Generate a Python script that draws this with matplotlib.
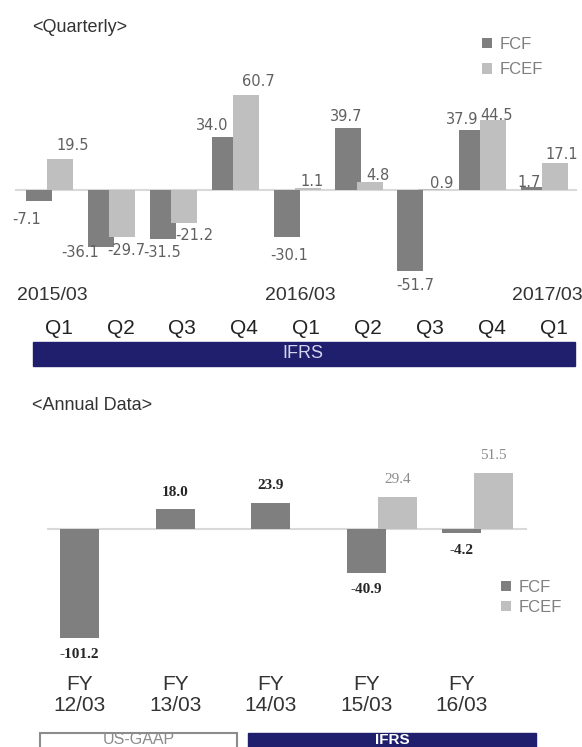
import matplotlib
matplotlib.use("Agg")
import matplotlib.pyplot as plt
import matplotlib.patches as patches
from matplotlib.transforms import blended_transform_factory, offset_copy
import numpy as np

plt.rcParams['font.family'] = ['Liberation Sans', 'DejaVu Sans']

W, H = 582, 747

# Quarterly free cash flow (billion yen)
quarters = ["Q1", "Q2", "Q3", "Q4", "Q1", "Q2", "Q3", "Q4", "Q1"]
year_labels = ["2015/03", "", "", "", "2016/03", "", "", "", "2017/03"]
fcf_q = [-7.1, -36.1, -31.5, 34.0, -30.1, 39.7, -51.7, 37.9, 1.7]
fcef_q = [19.5, -29.7, -21.2, 60.7, 1.1, 4.8, 0.9, 44.5, 17.1]

# Annual free cash flow (billion yen)
fiscal_years = ["FY\n12/03", "FY\n13/03", "FY\n14/03", "FY\n15/03", "FY\n16/03"]
fcf_y = [-101.2, 18.0, 23.9, -40.9, -4.2]
fcef_y = [np.nan, np.nan, np.nan, 29.4, 51.5]

# hand-placed label nudges for the quarterly chart (dx, dy in px, y down)
fcf_q_nudge = [(-12, 18), (-21, 6), (-1, 13), (-12, -11), (3, 18),
               (-2, -11), (5, 14), (-10, -11), (-5, -5)]
fcef_q_nudge = [(13, -14), (4, 14), (11, 12), (13, -13), (4, -7),
                (8, -7), (10, -5), (3, -5), (7, -9)]

DARK = '#7f7f7f'
LIGHT = '#bfbfbf'
NAVY = '#1f1f6e'


def fx(px):
    return px / W


def fy(py):
    return 1 - py / H


def box(x0, y0, x1, y1):
    return [fx(x0), fy(y1), fx(x1) - fx(x0), fy(y0) - fy(y1)]


def clean(ax):
    for s in ax.spines.values():
        s.set_visible(False)
    ax.set_xticks([])
    ax.set_yticks([])


fig = plt.figure(figsize=(W / 100, H / 100), dpi=100)

# ---- quarterly chart ----
ax1 = fig.add_axes(box(15, 60, 577, 300))
clean(ax1)
xq = np.arange(len(quarters))
ax1.set_xlim(-0.557, 8.522)
ax1.set_ylim(-70.06, 82.8)
ax1.axhline(0, color='#d9d9d9', lw=1.5, zorder=1)
b1 = ax1.bar(xq - 0.17, fcf_q, 0.42, color=DARK, zorder=2, label='FCF')
b2 = ax1.bar(xq + 0.17, fcef_q, 0.42, color=LIGHT, zorder=3, label='FCEF')

for xs, vals, nudges in ((xq - 0.17, fcf_q, fcf_q_nudge), (xq + 0.17, fcef_q, fcef_q_nudge)):
    for x, v, (dx, dy) in zip(xs, vals, nudges):
        ax1.annotate(f"{v:.1f}", xy=(x, v), xytext=(dx, -dy), textcoords='offset pixels',
                     ha='center', va='center', fontsize=10.5, color='#606060',
                     family='DejaVu Sans', zorder=4)

tq = blended_transform_factory(ax1.transData, fig.transFigure)
for i, lab in enumerate(year_labels):
    if lab:
        ax1.text(i, fy(295), lab, transform=offset_copy(tq, fig=fig, x=3, y=0, units='dots'),
                 ha='center', va='center', fontsize=14, color='#333333')
for i, lab in enumerate(quarters):
    ax1.text(i, fy(328), lab, transform=offset_copy(tq, fig=fig, x=9, y=0, units='dots'),
             ha='center', va='center', fontsize=15, color='#222222')

fig.add_artist(patches.Rectangle((fx(33), fy(366)), fx(575) - fx(33), fy(342) - fy(366),
                                 transform=fig.transFigure, color=NAVY))
fig.text(fx(303), fy(354), "IFRS", ha='center', va='center', fontsize=13, color='#d4d4ee')

fig.text(fx(32), fy(28), "<Quarterly>", ha='left', va='center', fontsize=13, color='#333333')

ax1.legend(handles=[b1, b2], loc='upper left', bbox_to_anchor=(fx(482), fy(37)),
           bbox_transform=fig.transFigure, frameon=False, fontsize=12,
           handlelength=0.6, handleheight=0.6, handletextpad=0.45, labelspacing=0.62,
           borderpad=0, borderaxespad=0, labelcolor='#7f7f7f')

# ---- annual chart ----
ax2 = fig.add_axes(box(47, 430, 527, 670))
clean(ax2)
xa = np.arange(len(fiscal_years))
ax2.set_xlim(-0.34, 4.681)
ax2.set_ylim(-131.0, 91.2)
ax2.axhline(0, color='#d9d9d9', lw=1.5, zorder=1)
c1 = ax2.bar(xa, fcf_y, 0.41, color=DARK, zorder=2, label='FCF')
c2 = ax2.bar(xa + 0.33, fcef_y, 0.41, color=LIGHT, zorder=3, label='FCEF')

for x, v in zip(xa, fcf_y):
    ax2.annotate(f"{v:.1f}", xy=(x, v), xytext=(0, 17 if v > 0 else -17), textcoords='offset pixels',
                 ha='center', va='center', fontsize=11, fontweight='bold', color='#262626',
                 family='Liberation Serif')
for x, v in zip(xa + 0.33, fcef_y):
    if np.isnan(v):
        continue
    ax2.annotate(f"{v:.1f}", xy=(x, v), xytext=(0, 17 if v > 0 else -17), textcoords='offset pixels',
                 ha='center', va='center', fontsize=11, color='#8c8c8c',
                 family='Liberation Serif')

ta = blended_transform_factory(ax2.transData, fig.transFigure)
for i, lab in enumerate(fiscal_years):
    ax2.text(i, fy(695), lab, transform=ta, ha='center', va='center', fontsize=15,
             linespacing=1.15, color='#333333')

fig.text(fx(32), fy(405), "<Annual Data>", ha='left', va='center', fontsize=13, color='#333333')

ax2.legend(handles=[c1, c2], loc='upper left', bbox_to_anchor=(fx(501), fy(580)),
           bbox_transform=fig.transFigure, frameon=False, fontsize=12,
           handlelength=0.6, handleheight=0.6, handletextpad=0.45, labelspacing=0.3,
           borderpad=0, borderaxespad=0, labelcolor='#7f7f7f')

# accounting standard boxes
fig.add_artist(patches.Rectangle((fx(40), fy(765)), fx(237) - fx(40), fy(733) - fy(765),
                                 transform=fig.transFigure, facecolor='white',
                                 edgecolor='#8c8c8c', lw=1.5))
fig.text(fx(139), fy(739.5), "US-GAAP", ha='center', va='center', fontsize=11.5, color='#8c8c8c')
fig.add_artist(patches.Rectangle((fx(248), fy(765)), fx(536) - fx(248), fy(733) - fy(765),
                                 transform=fig.transFigure, color=NAVY))
fig.text(fx(392), fy(739.5), "IFRS", ha='center', va='center', fontsize=11, fontweight='bold',
         color='white')

fig.savefig("out.png", dpi=100)
